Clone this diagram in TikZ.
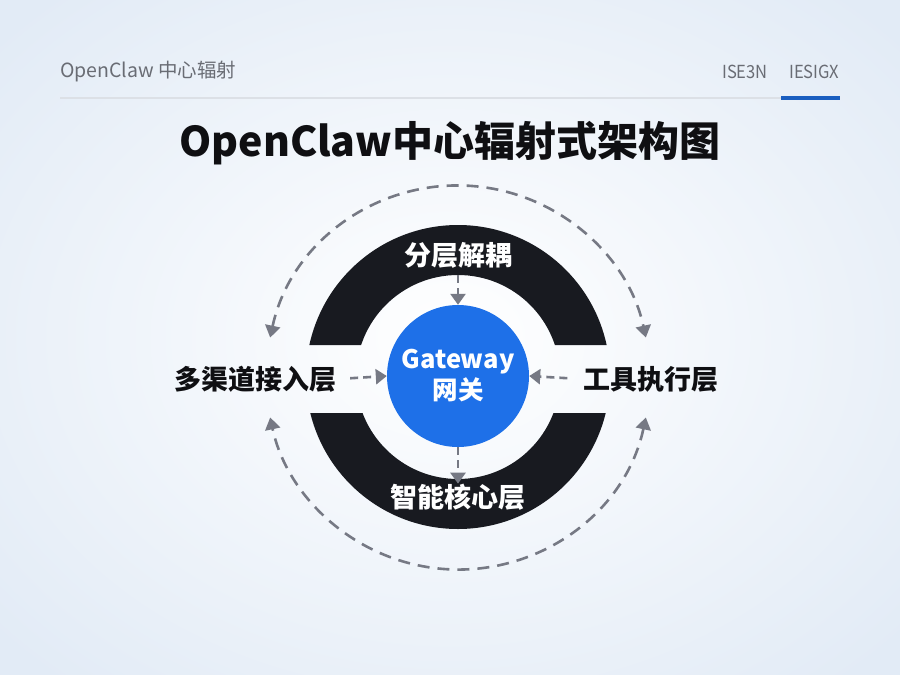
\documentclass[tikz,border=0pt]{standalone}
\usepackage{fontspec}
\setmainfont{Noto Sans CJK SC}
\usetikzlibrary{arrows.meta}
\definecolor{ringdark}{RGB}{24,26,32}
\definecolor{gwblue}{RGB}{30,112,232}
\definecolor{dashgray}{RGB}{118,121,132}
\definecolor{hdrgray}{RGB}{105,108,116}
\definecolor{rulegray}{RGB}{220,224,230}
\definecolor{tabblue}{RGB}{26,94,192}
\definecolor{bgedge}{RGB}{226,235,246}
\definecolor{titleblack}{RGB}{15,15,18}
\begin{document}
\begin{tikzpicture}[x=1pt,y=-1pt,
  lbl/.style={font=\fontsize{27}{30}\selectfont\bfseries, inner sep=2pt},
  darklbl/.style={lbl, text=titleblack},
  lightlbl/.style={lbl, text=white},
  shortarrow/.style={draw=dashgray, line width=2.6pt, dash pattern=on 8pt off 5pt,
     -{Triangle[length=11pt,width=15pt]}},
  outerarc/.style={draw=dashgray, line width=2.6pt, dash pattern=on 12pt off 8pt,
     {Triangle[length=12pt,width=15pt]}-{Triangle[length=12pt,width=15pt]}},
  hdr/.style={text=hdrgray, inner sep=0pt, anchor=west}
]
% background
\useasboundingbox (0,0) rectangle (900,675);
\shade[inner color=white, outer color=bgedge] (-150,-120) rectangle (1050,795);

% header
\node[hdr, font=\fontsize{19.5}{22}\selectfont] (hl) at (60,72) {OpenClaw 中心辐射};
\node[hdr, font=\fontsize{18}{20}\selectfont, xscale=0.92] (h1) at (722,72) {ISE3N};
\node[hdr, font=\fontsize{18}{20}\selectfont, xscale=0.92] (h2) at (789,72) {IESIGX};
\coordinate (ruleL) at (60,98);
\coordinate (ruleR) at (840,98);
\coordinate (tabL) at (781,98);
\draw[rulegray, line width=1.5pt] (ruleL) -- (ruleR);
\draw[tabblue, line width=3.5pt] (tabL) -- (ruleR);

% title
\node[font=\fontsize{41}{46}\selectfont\bfseries, text=titleblack] (title) at (450,143) {OpenClaw中心辐射式架构图};

% dark ring with side gaps
\begin{scope}
  \clip (0,0) rectangle (900,345) (0,413) rectangle (900,675);
  \fill[ringdark, even odd rule] (458,377) circle[radius=152] (458,377) circle[radius=102];
\end{scope}

% gateway
\node[circle, fill=gwblue, minimum size=142pt, inner sep=0pt, text=white,
      font=\fontsize{25.5}{33}\selectfont\bfseries, align=center] (gw) at (458,376) {Gateway\\[-2pt]网关};

% labels
\node[lightlbl] (top) at (458,255) {分层解耦};
\node[lightlbl] (bot) at (458,497) {智能核心层};
\node[darklbl] (left) at (255,379) {多渠道接入层};
\node[darklbl] (right) at (651,379) {工具执行层};

% short arrows into / out of gateway
\draw[shortarrow, shorten <=5pt] (top.south) -- (gw.north);
\draw[shortarrow] (gw.south) -- ([yshift=-2pt]bot.north);
\draw[shortarrow, shorten <=12pt] (left.east) -- (gw.west);
\draw[shortarrow, shorten <=14pt] (right.west) -- (gw.east);

% outer dashed arcs
\coordinate (arcTL) at ([shift={(192:192)}]458,377.5);
\coordinate (arcBR) at ([shift={(12:192)}]458,377.5);
\draw[outerarc] (arcTL) arc[start angle=192, end angle=348, radius=192];
\draw[outerarc] (arcBR) arc[start angle=12, end angle=168, radius=192];
\end{tikzpicture}
\end{document}
